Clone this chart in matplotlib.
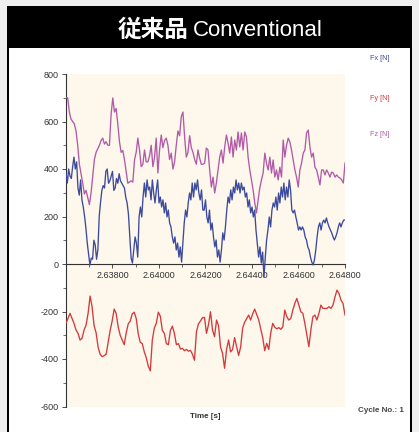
import numpy as np
import matplotlib
matplotlib.use("Agg")
import matplotlib.pyplot as plt
from matplotlib.patches import Rectangle
from matplotlib.ticker import MultipleLocator, FormatStrFormatter

plt.rcParams["axes.unicode_minus"] = False

# ---- measured cutting forces over one cycle ----
t_start, t_end = 2.636, 2.648

fx_values = [
    383, 341, 400, 370, 360, 410, 450, 400, 430, 320, 290, 354, 270, 240, 200, 150, 88, 40, -4, 25,
    20, 100, 80, 20, 60, 200, 260, 310, 330, 320, 390, 400, 340, 350, 370, 390, 310, 320, 360, 340,
    380, 350, 340, 330, 320, 280, 257, 210, 114, 25, 4,
    59, 114, 88, 29, 198, 240, 198, 282, 341, 282, 354, 312, 324, 270, 354, 299, 257, 312, 354, 257,
    282, 240, 270, 215, 257, 198, 227, 173, 156, 114, 88, 114, 59, 88, 29, 72, 8, 88, 173, 227,
    198, 257, 299, 270, 341, 282, 341, 312, 354, 299, 270, 312, 227,
    227, 270, 198, 173, 227, 143, 173, 114, 72, 101, 29, 59, 8, 59, 131, 101, 156, 227, 282, 257,
    312, 270, 324, 299, 354, 312, 341, 299, 341, 312, 324, 282, 299, 240, 270, 215, 240, 198, 227, 143,
    88, 29, 72, 4, 50, -55, 29, 101, 143, 198, 156, 227, 257,
    240, 282, 227, 299, 257, 324, 282, 341, 270, 324, 282, 354, 312, 227, 215, 227, 198, 173, 143, 156,
    143, 156, 143, 114, 101, 72, 59, 29, 8, -4, 17, 59, 114, 156, 173, 143, 173, 185, 173, 194,
    173, 156, 143, 131, 114, 101, 114, 131, 156, 173, 156, 173, 185, 185,
]

fy_values = [
    -250, -229, -208, -229, -250, -278, -292, -320, -313, -278, -257, -208, -135, -180, -260, -290, -350, -380, -390, -386,
    -380, -330, -280, -240, -190, -208, -265, -300, -320, -340, -290, -252, -240, -210, -203, -230, -295, -330, -335, -370,
    -395, -430, -450, -320, -270, -250, -203, -220, -280, -292, -335, -340, -280, -262, -292, -340, -335, -358, -355, -365,
    -360, -367, -364, -380, -405, -285, -252, -240, -226, -225,
    -292, -255, -201, -278, -306, -236, -260, -350, -376, -439, -360, -320, -370, -360, -310, -348, -385, -350, -270, -245,
    -230, -215, -236, -210, -190, -212, -235, -272, -310, -365, -334, -360, -290, -250, -266, -273, -268, -275, -265, -194,
    -222, -236, -229, -194, -166, -145, -173, -201, -208, -250, -299, -348, -278, -222, -215, -236, -208, -173, -187, -187,
    -187, -180, -187, -173, -139, -110, -124, -152, -166, -215,
]

fz_values = [
    700, 700, 640, 610, 600, 590, 560, 500, 420, 380, 340, 295, 310, 280, 250, 300, 370, 440, 470, 485,
    500, 520, 530, 505, 515, 500, 500, 630, 699, 640, 655, 590, 515, 470, 478, 440, 390, 340, 345, 350,
    345,
    438, 470, 530, 480, 410, 420, 480, 430, 430, 455, 500, 410, 450, 530, 383, 480, 543, 490, 520, 530,
    500, 440, 467, 400, 430, 500, 560, 540, 620, 640, 535, 450, 470, 540, 490, 470, 440, 420, 480, 445,
    420, 420,
    425, 488, 480, 396, 324, 366, 299, 341, 396, 450, 480, 425, 493, 543, 509, 467, 535, 450, 522, 480,
    556, 493, 552, 480, 556, 535, 450, 396, 354, 312, 257, 215, 270, 320, 354, 383, 467, 425, 396, 450,
    383, 438,
    366, 396, 354, 408, 366, 522, 450, 500, 530, 514, 480, 438, 396, 366, 324, 396, 425, 467, 480, 552,
    564, 493, 450, 467, 408, 396, 366, 333, 396, 396, 375, 396, 383, 366, 387, 383, 366, 375, 366, 362,
    354, 341, 425,
]

series_names = ["Fx [N]", "Fy [N]", "Fz [N]"]
series_colors = ["#3c4a9c", "#d23a3c", "#b05aa8"]

y_ticks = [-600, -400, -200, 0, 200, 400, 600, 800]
x_ticks = [2.638, 2.640, 2.642, 2.644, 2.646, 2.648]

W, H = 419, 432
fig = plt.figure(figsize=(W / 100, H / 100), dpi=100)
fig.patch.set_facecolor("#efefef")

# black frame with title bar, white panel beneath
fig.add_artist(Rectangle((7 / W, 0), 405 / W, 1 - 6 / H, transform=fig.transFigure,
                         facecolor="black", edgecolor="none", zorder=-10))
fig.add_artist(Rectangle((9 / W, 0), 401 / W, 1 - 48 / H, transform=fig.transFigure,
                         facecolor="white", edgecolor="none", zorder=-9))

fig.text(188 / W, 1 - 30 / H, "従来品", color="white", fontsize=17, fontweight="bold",
         family=["Noto Sans CJK JP"], ha="right", va="center")
fig.text(193 / W, 1 - 31 / H, "Conventional", color="white", fontsize=16,
         family=["Liberation Sans"], ha="left", va="center")

ax = fig.add_axes([66 / W, 1 - 406.5 / H, 279 / W, (406.5 - 74) / H])
ax.set_facecolor("#fdf7ec")

for vals, color in zip([fx_values, fy_values, fz_values], series_colors):
    t = np.linspace(t_start, t_end, len(vals))
    ax.plot(t, vals, color=color, lw=0.95, zorder=3)

ax.set_xlim(t_start, t_end)
ax.set_ylim(-600, 800)

for s in ["top", "right"]:
    ax.spines[s].set_visible(False)
ax.spines["bottom"].set_position(("data", 0))
ax.spines["left"].set_color("#333333")
ax.spines["bottom"].set_color("#333333")
ax.spines["left"].set_linewidth(0.8)
ax.spines["bottom"].set_linewidth(0.8)

ax.set_yticks(y_ticks)
ax.yaxis.set_minor_locator(MultipleLocator(100))
ax.set_xticks(x_ticks)
ax.xaxis.set_minor_locator(MultipleLocator(0.001))
ax.xaxis.set_major_formatter(FormatStrFormatter("%.5f"))
ax.tick_params(axis="both", which="major", length=3, width=0.6, color="#333333",
               labelsize=6.5, labelcolor="#333333", pad=2)
ax.tick_params(axis="both", which="minor", length=2, width=0.5, color="#333333")
for lab in ax.get_xticklabels() + ax.get_yticklabels():
    lab.set_family("Liberation Sans")

fig.text(190 / W, 1 - 416 / H, "Time [s]", fontsize=5.8, fontweight="bold",
         color="#333333", family=["Liberation Sans"], ha="left", va="center")
fig.text(358 / W, 1 - 411 / H, "Cycle No.: 1", fontsize=5.8, fontweight="bold",
         color="#444444", family=["Liberation Sans"], ha="left", va="center")

for name, color, ypix in zip(series_names, series_colors, [58, 98, 135]):
    fig.text(370 / W, 1 - ypix / H, name, fontsize=5.2, color=color,
             family=["Liberation Sans"], ha="left", va="center")

fig.savefig("out.png", dpi=100, facecolor=fig.get_facecolor())
